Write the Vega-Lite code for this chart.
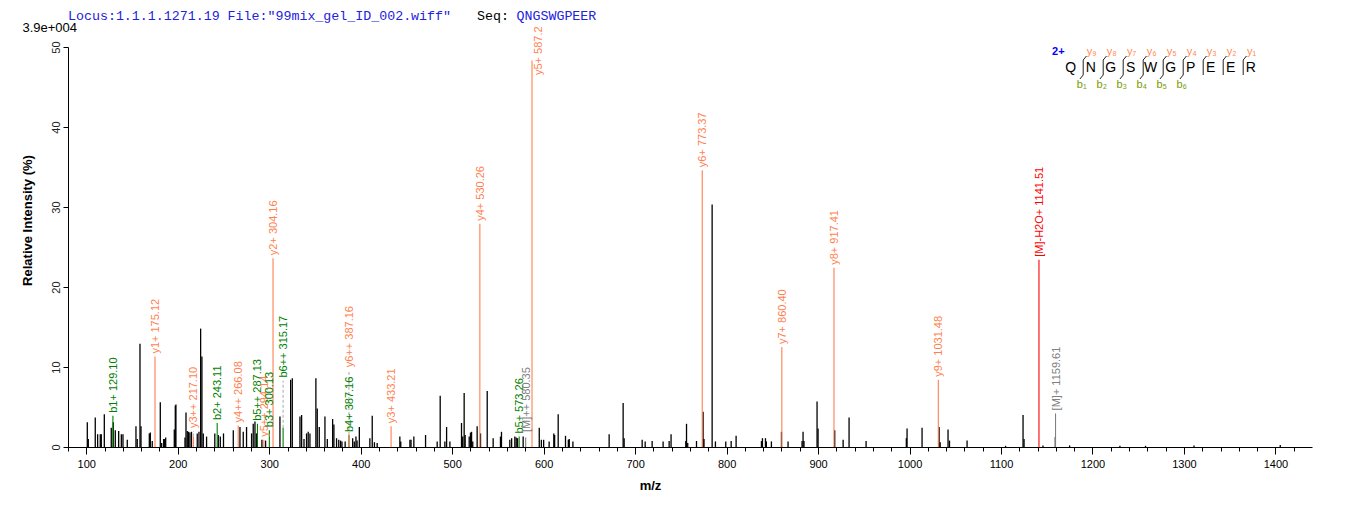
{
  "$schema": "https://vega.github.io/schema/vega-lite/v6.json",
  "width": 1244,
  "height": 400,
  "autosize": {"type": "none"},
  "padding": {"left": 68, "top": 47, "right": 50, "bottom": 60},
  "background": "white",
  "config": {
    "view": {"stroke": null},
    "text": {"font": "Liberation Sans"},
    "axis": {"labelFont": "Liberation Sans", "titleFont": "Liberation Sans", "grid": false}
  },
  "datasets": {
    "peaks": [
      {"mz": 101.1, "h": 3.1}, {"mz": 102.2, "h": 1.0}, {"mz": 109.8, "h": 3.7}, {"mz": 112.4, "h": 1.6},
      {"mz": 115.3, "h": 1.6}, {"mz": 116.4, "h": 1.6}, {"mz": 119.7, "h": 4.1}, {"mz": 127.3, "h": 2.4},
      {"mz": 129.5, "h": 3.1}, {"mz": 131.7, "h": 2.1}, {"mz": 135.4, "h": 2.0}, {"mz": 138.3, "h": 1.6},
      {"mz": 140.1, "h": 1.6}, {"mz": 144.8, "h": 0.9}, {"mz": 154.3, "h": 2.6}, {"mz": 155.7, "h": 1.0},
      {"mz": 158.7, "h": 12.9}, {"mz": 159.8, "h": 2.6}, {"mz": 168.9, "h": 1.7}, {"mz": 170.0, "h": 1.8},
      {"mz": 172.1, "h": 0.75}, {"mz": 180.9, "h": 5.6}, {"mz": 182.4, "h": 0.5}, {"mz": 184.6, "h": 1.0},
      {"mz": 185.7, "h": 1.0}, {"mz": 186.8, "h": 1.2}, {"mz": 196.2, "h": 2.2}, {"mz": 197.3, "h": 5.2},
      {"mz": 198.0, "h": 5.3}, {"mz": 207.9, "h": 1.2}, {"mz": 209.0, "h": 4.3}, {"mz": 210.4, "h": 2.0},
      {"mz": 211.8, "h": 1.9}, {"mz": 213.3, "h": 1.8}, {"mz": 215.0, "h": 1.9}, {"mz": 221.3, "h": 1.7},
      {"mz": 223.2, "h": 1.9}, {"mz": 225.0, "h": 14.8}, {"mz": 226.4, "h": 11.3}, {"mz": 227.9, "h": 1.7},
      {"mz": 231.5, "h": 1.3}, {"mz": 240.5, "h": 1.7}, {"mz": 244.3, "h": 1.5}, {"mz": 246.5, "h": 1.3},
      {"mz": 250.0, "h": 1.7}, {"mz": 260.7, "h": 2.1}, {"mz": 268.0, "h": 2.5}, {"mz": 271.6, "h": 1.9},
      {"mz": 275.2, "h": 2.5}, {"mz": 280.7, "h": 1.7}, {"mz": 282.5, "h": 2.9}, {"mz": 284.4, "h": 3.2},
      {"mz": 286.0, "h": 1.7}, {"mz": 292.0, "h": 0.9}, {"mz": 296.0, "h": 0.8}, {"mz": 311.7, "h": 3.8},
      {"mz": 323.4, "h": 8.4}, {"mz": 325.2, "h": 8.6}, {"mz": 333.6, "h": 3.8}, {"mz": 335.4, "h": 4.0},
      {"mz": 338.0, "h": 1.0}, {"mz": 340.8, "h": 1.7}, {"mz": 342.6, "h": 1.9}, {"mz": 344.5, "h": 1.7},
      {"mz": 351.0, "h": 8.6}, {"mz": 352.5, "h": 4.8}, {"mz": 354.7, "h": 2.5}, {"mz": 360.9, "h": 3.8},
      {"mz": 363.5, "h": 1.0}, {"mz": 369.3, "h": 3.5}, {"mz": 370.7, "h": 2.8}, {"mz": 373.6, "h": 1.1},
      {"mz": 376.0, "h": 0.9}, {"mz": 378.0, "h": 0.8}, {"mz": 379.5, "h": 0.7}, {"mz": 383.0, "h": 0.7},
      {"mz": 391.2, "h": 1.1}, {"mz": 393.0, "h": 0.7}, {"mz": 394.8, "h": 1.3}, {"mz": 396.0, "h": 0.8},
      {"mz": 398.5, "h": 2.5}, {"mz": 410.0, "h": 1.1}, {"mz": 412.6, "h": 3.9}, {"mz": 415.0, "h": 0.6},
      {"mz": 418.0, "h": 0.5}, {"mz": 442.8, "h": 1.3}, {"mz": 443.8, "h": 0.7}, {"mz": 453.8, "h": 0.9},
      {"mz": 455.0, "h": 0.9}, {"mz": 458.1, "h": 1.3}, {"mz": 470.9, "h": 1.5}, {"mz": 483.6, "h": 0.7},
      {"mz": 486.9, "h": 6.4}, {"mz": 492.0, "h": 0.7}, {"mz": 493.9, "h": 2.5}, {"mz": 497.5, "h": 0.7},
      {"mz": 510.2, "h": 3.0}, {"mz": 511.5, "h": 1.3}, {"mz": 513.1, "h": 6.75}, {"mz": 514.2, "h": 1.5},
      {"mz": 518.6, "h": 1.3}, {"mz": 520.0, "h": 1.8}, {"mz": 521.2, "h": 1.9}, {"mz": 522.5, "h": 0.7},
      {"mz": 527.3, "h": 2.6}, {"mz": 531.0, "h": 1.7}, {"mz": 538.3, "h": 7.0}, {"mz": 544.8, "h": 1.1},
      {"mz": 552.8, "h": 1.3}, {"mz": 553.9, "h": 1.9}, {"mz": 563.0, "h": 0.9}, {"mz": 565.0, "h": 1.1},
      {"mz": 568.5, "h": 1.3}, {"mz": 570.0, "h": 1.2}, {"mz": 571.5, "h": 1.1}, {"mz": 577.6, "h": 1.3},
      {"mz": 595.2, "h": 2.4}, {"mz": 597.5, "h": 0.9}, {"mz": 600.0, "h": 0.9}, {"mz": 606.0, "h": 0.7},
      {"mz": 611.1, "h": 1.7}, {"mz": 612.0, "h": 1.5}, {"mz": 615.9, "h": 4.1}, {"mz": 623.9, "h": 1.4},
      {"mz": 627.0, "h": 0.9}, {"mz": 628.0, "h": 1.0}, {"mz": 632.0, "h": 0.7}, {"mz": 671.6, "h": 1.6},
      {"mz": 686.9, "h": 5.5}, {"mz": 688.0, "h": 1.1}, {"mz": 707.7, "h": 0.9}, {"mz": 711.0, "h": 0.7},
      {"mz": 718.6, "h": 0.75}, {"mz": 730.6, "h": 0.7}, {"mz": 737.2, "h": 0.75}, {"mz": 739.3, "h": 1.6},
      {"mz": 755.4, "h": 0.75}, {"mz": 756.2, "h": 2.9}, {"mz": 757.5, "h": 0.5}, {"mz": 767.1, "h": 0.75},
      {"mz": 774.3, "h": 4.4}, {"mz": 775.3, "h": 1.0}, {"mz": 784.2, "h": 30.3}, {"mz": 787.8, "h": 0.7},
      {"mz": 799.1, "h": 0.7}, {"mz": 805.0, "h": 0.75}, {"mz": 810.4, "h": 1.4}, {"mz": 838.1, "h": 0.75},
      {"mz": 839.2, "h": 1.1}, {"mz": 842.5, "h": 1.1}, {"mz": 843.5, "h": 0.7}, {"mz": 849.0, "h": 0.7},
      {"mz": 860.0, "h": 1.9}, {"mz": 867.2, "h": 0.7}, {"mz": 882.5, "h": 0.75}, {"mz": 883.6, "h": 1.9},
      {"mz": 884.6, "h": 0.75}, {"mz": 898.9, "h": 5.7}, {"mz": 900.0, "h": 2.3}, {"mz": 918.2, "h": 2.1},
      {"mz": 927.4, "h": 0.9}, {"mz": 933.9, "h": 3.7}, {"mz": 952.5, "h": 0.75}, {"mz": 996.5, "h": 1.1},
      {"mz": 997.3, "h": 2.3}, {"mz": 1013.7, "h": 2.4}, {"mz": 1032.3, "h": 2.5}, {"mz": 1033.5, "h": 0.6},
      {"mz": 1042.1, "h": 2.2}, {"mz": 1043.7, "h": 0.8}, {"mz": 1062.9, "h": 0.8}, {"mz": 1105.0, "h": 0.15},
      {"mz": 1124.1, "h": 4.0}, {"mz": 1125.2, "h": 1.0}, {"mz": 1145.9, "h": 0.2}, {"mz": 1159.4, "h": 1.25},
      {"mz": 1175.0, "h": 0.2}, {"mz": 1230.0, "h": 0.15}, {"mz": 1258.0, "h": 0.15}, {"mz": 1311.0, "h": 0.2},
      {"mz": 1405.3, "h": 0.25}
    ],
    "ions": [
      {"mz": 129.10, "h": 3.9, "lab": 3.9, "ion": "b1+ 129.10", "type": "b"},
      {"mz": 175.12, "h": 11.3, "lab": 11.3, "ion": "y1+ 175.12", "type": "y"},
      {"mz": 217.10, "h": 1.3, "lab": 2.0, "ion": "y3++ 217.10", "type": "y"},
      {"mz": 243.11, "h": 3.0, "lab": 3.0, "ion": "b2+ 243.11", "type": "b"},
      {"mz": 266.08, "h": 2.7, "lab": 2.7, "ion": "y4++ 266.08", "type": "y"},
      {"mz": 287.13, "h": 2.9, "lab": 2.9, "ion": "b5++ 287.13", "type": "b"},
      {"mz": 294.14, "h": 0.9, "lab": 0.9, "ion": "y5++ 294.14", "type": "y"},
      {"mz": 300.13, "h": 2.1, "lab": 2.1, "ion": "b3+ 300.13", "type": "b"},
      {"mz": 304.16, "h": 23.6, "lab": 23.6, "ion": "y2+ 304.16", "type": "y"},
      {"mz": 315.17, "h": 2.4, "lab": 8.3, "ion": "b6++ 315.17", "type": "b"},
      {"mz": 387.16, "h": 1.5, "lab": 1.5, "ion": "b4+ 387.16", "type": "b"},
      {"mz": 387.16, "h": 1.5, "lab": 9.6, "ion": "y6++ 387.16", "type": "y"},
      {"mz": 433.21, "h": 2.6, "lab": 2.6, "ion": "y3+ 433.21", "type": "y"},
      {"mz": 530.26, "h": 27.9, "lab": 27.9, "ion": "y4+ 530.26", "type": "y"},
      {"mz": 573.26, "h": 1.3, "lab": 1.3, "ion": "b5+ 573.26", "type": "b"},
      {"mz": 580.35, "h": 1.2, "lab": 1.5, "ion": "[M]++ 580.35", "type": "M"},
      {"mz": 587.28, "h": 48.3, "lab": 46.5, "ion": "y5+ 587.2", "type": "y"},
      {"mz": 773.37, "h": 34.6, "lab": 34.6, "ion": "y6+ 773.37", "type": "y"},
      {"mz": 860.40, "h": 12.5, "lab": 12.5, "ion": "y7+ 860.40", "type": "y"},
      {"mz": 917.41, "h": 22.4, "lab": 22.4, "ion": "y8+ 917.41", "type": "y"},
      {"mz": 1031.48, "h": 8.4, "lab": 8.4, "ion": "y9+ 1031.48", "type": "y"},
      {"mz": 1141.51, "h": 23.4, "lab": 23.4, "ion": "[M]-H2O+ 1141.51", "type": "MH"},
      {"mz": 1159.61, "h": 4.2, "lab": 4.2, "ion": "[M]+ 1159.61", "type": "M"}
    ],
    "pep": [
      {"pos": 0, "aa": "Q"}, {"pos": 1, "aa": "N"}, {"pos": 2, "aa": "G"}, {"pos": 3, "aa": "S"},
      {"pos": 4, "aa": "W"}, {"pos": 5, "aa": "G"}, {"pos": 6, "aa": "P"}, {"pos": 7, "aa": "E"},
      {"pos": 8, "aa": "E"}, {"pos": 9, "aa": "R"}
    ],
    "cleave": [
      {"c": 1, "y": "y₉", "b": "b₁"}, {"c": 2, "y": "y₈", "b": "b₂"}, {"c": 3, "y": "y₇", "b": "b₃"},
      {"c": 4, "y": "y₆", "b": "b₄"}, {"c": 5, "y": "y₅", "b": "b₅"}, {"c": 6, "y": "y₄", "b": "b₆"},
      {"c": 7, "y": "y₃", "b": ""}, {"c": 8, "y": "y₂", "b": ""}, {"c": 9, "y": "y₁", "b": ""}
    ]
  },
  "layer": [
    {
      "layer": [
        {
          "data": {"name": "peaks"},
          "mark": {"type": "rule", "color": "black", "strokeWidth": 1.3},
          "encoding": {
            "x": {
              "field": "mz", "type": "quantitative",
              "scale": {"domain": [80, 1440], "nice": false, "zero": false},
              "axis": {
                "title": "m/z", "titleFontSize": 13, "titleFontWeight": "bold", "titleColor": "black",
                "titleX": 582, "titleY": 38, "titleAlign": "center", "titleBaseline": "middle",
                "values": [100, 200, 300, 400, 500, 600, 700, 800, 900, 1000, 1100, 1200, 1300, 1400],
                "format": "d",
                "tickSize": 7, "labelPadding": 4, "labelFontSize": 11, "labelColor": "black",
                "labelOverlap": false, "labelFlush": false,
                "domainColor": "black", "tickColor": "black", "grid": false
              }
            },
            "y": {
              "field": "h", "type": "quantitative",
              "scale": {"domain": [0, 50], "nice": false},
              "axis": {
                "title": "Relative  Intensity (%)", "titleFontSize": 13, "titleFontWeight": "bold", "titleColor": "black",
                "titleX": -41, "titleY": 173, "titleAngle": -90, "titleAlign": "center", "titleBaseline": "middle",
                "values": [0, 5, 10, 15, 20, 25, 30, 35, 40, 45, 50],
                "labelAngle": -90, "labelFontSize": 11, "labelColor": "#222", "labelPadding": 2,
                "tickSize": 5, "tickColor": "black", "domainColor": "black", "grid": false
              }
            },
            "y2": {"datum": 0}
          }
        },
        {
          "data": {"name": "ions"},
          "mark": {"type": "rule", "strokeWidth": 1.1},
          "encoding": {
            "x": {"field": "mz", "type": "quantitative"},
            "y": {"field": "h", "type": "quantitative"},
            "y2": {"datum": 0},
            "color": {"field": "type", "type": "nominal", "legend": null,
              "scale": {"domain": ["b", "y", "M", "MH"], "range": ["#008000", "#FF7F50", "#808080", "#FF0000"]}}
          }
        },
        {
          "data": {"name": "ions"},
          "transform": [{"filter": "datum.lab > datum.h + 0.3"}],
          "mark": {"type": "rule", "strokeWidth": 1, "color": "#aaaaaa", "strokeDash": [3, 2]},
          "encoding": {
            "x": {"field": "mz", "type": "quantitative"},
            "y": {"field": "h", "type": "quantitative"},
            "y2": {"field": "lab"}
          }
        },
        {
          "data": {"name": "ions"},
          "transform": [{"filter": "datum.lab >= datum.h"}],
          "mark": {"type": "text", "angle": -90, "align": "left", "baseline": "middle", "dx": 3, "dy": 1, "fontSize": 11, "font": "Liberation Sans"},
          "encoding": {
            "x": {"field": "mz", "type": "quantitative"},
            "y": {"field": "lab", "type": "quantitative"},
            "text": {"field": "ion"},
            "color": {"field": "type", "type": "nominal", "legend": null}
          }
        },
        {
          "data": {"name": "ions"},
          "transform": [{"filter": "datum.lab < datum.h"}],
          "mark": {"type": "text", "angle": -90, "align": "left", "baseline": "middle", "dx": 0, "dy": 7, "fontSize": 11, "font": "Liberation Sans"},
          "encoding": {
            "x": {"field": "mz", "type": "quantitative"},
            "y": {"field": "lab", "type": "quantitative"},
            "text": {"field": "ion"},
            "color": {"field": "type", "type": "nominal", "legend": null}
          }
        }
      ]
    },
    {
      "data": {"name": "ions"},
      "mark": {"type": "point", "opacity": 0},
      "encoding": {
        "x": {
          "field": "mz", "type": "quantitative",
          "scale": {"domain": [80, 1440], "nice": false, "zero": false},
          "axis": {
            "orient": "bottom", "title": null, "labels": false, "domain": false,
            "values": [80,120,140,160,180,220,240,260,280,320,340,360,380,420,440,460,480,520,540,560,580,620,640,660,680,720,740,760,780,820,840,860,880,920,940,960,980,1020,1040,1060,1080,1120,1140,1160,1180,1220,1240,1260,1280,1320,1340,1360,1380,1420],
            "tickSize": 4, "tickColor": "black", "grid": false
          }
        },
        "y": {"field": "h", "type": "quantitative", "scale": {"domain": [0, 50], "nice": false}, "axis": null}
      }
    },
    {
      "layer": [
        {
          "data": {"name": "pep"},
          "mark": {"type": "text", "fontSize": 14, "align": "center", "baseline": "middle", "color": "black"},
          "encoding": {
            "x": {"field": "pos", "type": "quantitative", "scale": {"domain": [-50.135, 12.065], "nice": false, "zero": false}, "axis": null},
            "y": {"datum": 0, "type": "quantitative", "scale": {"domain": [-37.9, 2.1], "nice": false, "zero": false}, "axis": null},
            "text": {"field": "aa"}
          }
        },
        {
          "data": {"name": "cleave"},
          "mark": {"type": "rule", "color": "#222", "strokeWidth": 1, "xOffset": -7.5},
          "encoding": {
            "x": {"field": "c", "type": "quantitative"},
            "y": {"datum": 0.8, "type": "quantitative"},
            "y2": {"datum": -0.7}
          }
        },
        {
          "data": {"name": "cleave"},
          "mark": {"type": "rule", "color": "#222", "strokeWidth": 1, "xOffset": -7.5, "x2Offset": -4.2, "y2Offset": -4},
          "encoding": {
            "x": {"field": "c", "type": "quantitative"},
            "x2": {"field": "c"},
            "y": {"datum": 0.8, "type": "quantitative"},
            "y2": {"datum": 0.8}
          }
        },
        {
          "data": {"name": "cleave"},
          "transform": [{"filter": "datum.b !== ''"}],
          "mark": {"type": "rule", "color": "#222", "strokeWidth": 1, "xOffset": -7.5, "x2Offset": -10.8, "y2Offset": 4},
          "encoding": {
            "x": {"field": "c", "type": "quantitative"},
            "x2": {"field": "c"},
            "y": {"datum": -0.7, "type": "quantitative"},
            "y2": {"datum": -0.7}
          }
        },
        {
          "data": {"name": "cleave"},
          "mark": {"type": "text", "fontSize": 11, "align": "center", "baseline": "middle", "color": "#FF8C55", "xOffset": 1},
          "encoding": {
            "x": {"field": "c", "type": "quantitative"},
            "y": {"datum": 1.63, "type": "quantitative"},
            "text": {"field": "y"}
          }
        },
        {
          "data": {"name": "cleave"},
          "transform": [{"filter": "datum.b !== ''"}],
          "mark": {"type": "text", "fontSize": 11, "align": "center", "baseline": "middle", "color": "#7A9A01", "xOffset": -9},
          "encoding": {
            "x": {"field": "c", "type": "quantitative"},
            "y": {"datum": -1.7, "type": "quantitative"},
            "text": {"field": "b"}
          }
        },
        {
          "data": {"values": [{}]},
          "mark": {"type": "text", "fontSize": 11, "fontWeight": "bold", "align": "center", "baseline": "middle", "color": "#0000FF"},
          "encoding": {
            "x": {"datum": -0.62, "type": "quantitative"},
            "y": {"datum": 1.63, "type": "quantitative"},
            "text": {"value": "2+"}
          }
        },
        {
          "data": {"values": [{}]},
          "mark": {"type": "text", "font": "Liberation Mono", "fontSize": 13.3, "align": "left", "baseline": "middle", "color": "#2222DD"},
          "encoding": {
            "x": {"datum": -50.135, "type": "quantitative"},
            "y": {"datum": 5.23, "type": "quantitative"},
            "text": {"value": "Locus:1.1.1.1271.19 File:\"99mix_gel_ID_002.wiff\""}
          }
        },
        {
          "data": {"values": [{}]},
          "mark": {"type": "text", "font": "Liberation Mono", "fontSize": 13.3, "align": "left", "baseline": "middle", "color": "black"},
          "encoding": {
            "x": {"datum": -29.685, "type": "quantitative"},
            "y": {"datum": 5.23, "type": "quantitative"},
            "text": {"value": "Seq:"}
          }
        },
        {
          "data": {"values": [{}]},
          "mark": {"type": "text", "font": "Liberation Mono", "fontSize": 13.3, "align": "left", "baseline": "middle", "color": "#2222DD"},
          "encoding": {
            "x": {"datum": -27.71, "type": "quantitative"},
            "y": {"datum": 5.23, "type": "quantitative"},
            "text": {"value": "QNGSWGPEER"}
          }
        },
        {
          "data": {"values": [{}]},
          "mark": {"type": "text", "fontSize": 13, "align": "right", "baseline": "middle", "color": "black"},
          "encoding": {
            "x": {"datum": -49.685, "type": "quantitative"},
            "y": {"datum": 3.97, "type": "quantitative"},
            "text": {"value": "3.9e+004"}
          }
        }
      ]
    }
  ],
  "resolve": {"scale": {"x": "independent", "y": "independent", "color": "independent"}, "axis": {"x": "independent", "y": "independent"}}
}
